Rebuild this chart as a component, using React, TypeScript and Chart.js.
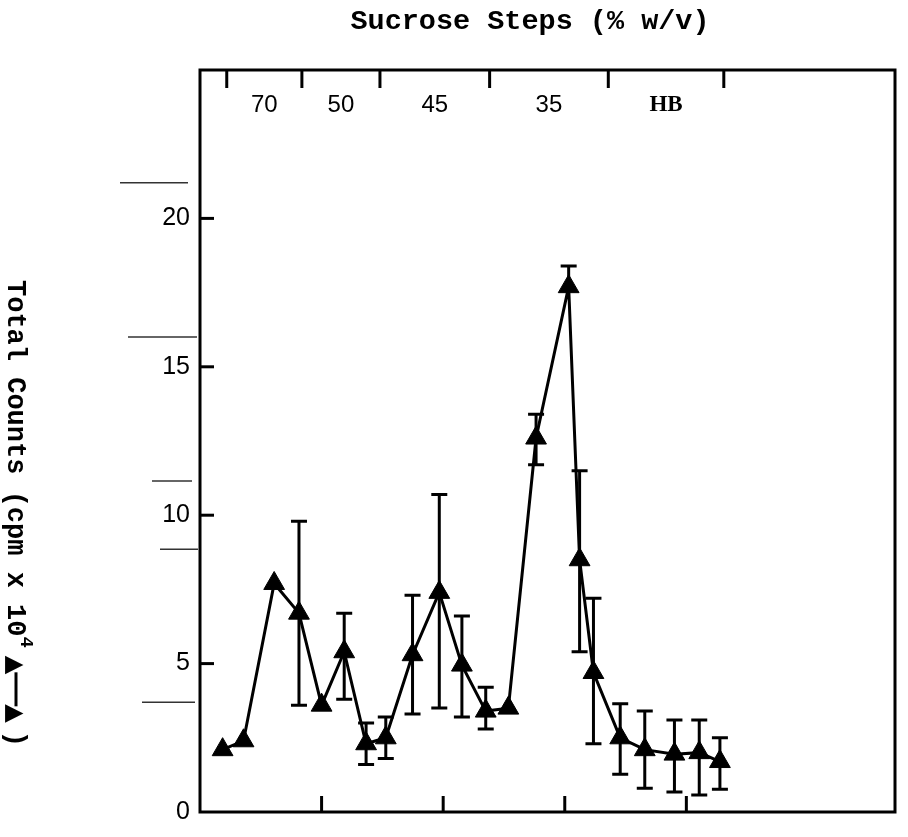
import React, { useEffect, useRef } from 'react';
import { Chart, registerables } from 'chart.js';

Chart.register(...registerables);

// Fraction position along the gradient (x) and total counts (cpm x 10^4)
const fractions = [0.93, 1.79, 3.05, 4.07, 5.0, 5.93, 6.83, 7.64, 8.74, 9.84, 10.77, 11.75, 12.68, 13.82, 15.16, 15.61, 16.18, 17.28, 18.29, 19.51, 20.53, 21.38];
const counts = [2.1, 2.4, 7.7, 6.7, 3.6, 5.4, 2.3, 2.5, 5.3, 7.4, 4.95, 3.4, 3.5, 12.6, 17.7, 8.5, 4.7, 2.5, 2.1, 1.95, 2.0, 1.7];
const errUpper: (number | null)[] = [null, null, null, 9.8, null, 6.7, 3.0, 3.2, 7.3, 10.7, 6.6, 4.2, null, 13.4, 18.4, 11.5, 7.2, 3.65, 3.4, 3.1, 3.1, 2.5];
const errLower: (number | null)[] = [null, null, null, 3.6, null, 3.8, 1.6, 1.8, 3.3, 3.5, 3.2, 2.8, null, 11.7, null, 5.4, 2.3, 1.27, 0.8, 0.67, 0.57, 0.77];

// Sucrose step boundaries (top axis) and their labels
const stepBounds = [1.1, 4.19, 7.4, 11.91, 16.79, 21.54];
const stepLabels = ['70', '50', '45', '35', 'HB'];

const yTickValues = [0, 5, 10, 15, 20];
const xTickValues = [5, 10, 15, 20];
const marginRuleValues = [21.2, 16.0, 11.15, 8.85, 3.7];

const titleText = 'Sucrose Steps (% w/v)';
const yTitleMain = 'Total Counts (cpm x 10';
const yTitleSup = '4';

const X_MAX = 28.58;
const Y_MAX = 25;

const overlayPlugin = {
  id: 'overlay',
  afterDatasetsDraw(chart: any) {
    const { ctx, scales } = chart;
    const x = scales.x;
    const y = scales.y;
    ctx.save();
    ctx.strokeStyle = '#000';
    ctx.lineWidth = 3;
    ctx.lineCap = 'butt';
    const cap = 8;
    for (let i = 0; i < fractions.length; i++) {
      const px = x.getPixelForValue(fractions[i]);
      const py = y.getPixelForValue(counts[i]);
      const hi = errUpper[i];
      const lo = errLower[i];
      if (hi != null) {
        const ph = y.getPixelForValue(hi);
        ctx.beginPath();
        ctx.moveTo(px, py);
        ctx.lineTo(px, ph);
        ctx.moveTo(px - cap, ph);
        ctx.lineTo(px + cap, ph);
        ctx.stroke();
      }
      if (lo != null) {
        const pl = y.getPixelForValue(lo);
        ctx.beginPath();
        ctx.moveTo(px, py);
        ctx.lineTo(px, pl);
        ctx.moveTo(px - cap, pl);
        ctx.lineTo(px + cap, pl);
        ctx.stroke();
      }
    }
    ctx.restore();
  },
  afterDraw(chart: any) {
    const { ctx, chartArea: a, scales } = chart;
    const x = scales.x;
    const y = scales.y;
    ctx.save();
    ctx.strokeStyle = '#000';
    ctx.fillStyle = '#000';
    ctx.lineWidth = 3;
    ctx.strokeRect(a.left, a.top, a.right - a.left, a.bottom - a.top);
    const seg = (x1: number, y1: number, x2: number, y2: number) => {
      ctx.beginPath();
      ctx.moveTo(x1, y1);
      ctx.lineTo(x2, y2);
      ctx.stroke();
    };
    xTickValues.forEach((v) => {
      const px = x.getPixelForValue(v);
      seg(px, a.bottom, px, a.bottom - 16);
    });
    yTickValues.slice(1).forEach((v) => {
      const py = y.getPixelForValue(v);
      seg(a.left, py, a.left + 14, py);
    });
    stepBounds.forEach((v) => {
      const px = x.getPixelForValue(v);
      seg(px, a.top, px, a.top + 18);
    });
    // faint ruling marks left of the axis
    ctx.lineWidth = 1.5;
    ctx.strokeStyle = '#333';
    marginRuleValues.forEach((v, i) => {
      const py = y.getPixelForValue(v);
      const start = [80, 72, 48, 40, 58][i];
      const end = [12, 3, 8, 2, 5][i];
      seg(a.left - start, py, a.left - end, py);
    });
    // step labels
    ctx.textAlign = 'center';
    ctx.textBaseline = 'middle';
    for (let i = 0; i < stepLabels.length; i++) {
      const mid = (x.getPixelForValue(stepBounds[i]) + x.getPixelForValue(stepBounds[i + 1])) / 2;
      ctx.font = stepLabels[i] === 'HB' ? 'bold 23px "Liberation Serif"' : '24px "Liberation Sans"';
      ctx.fillText(stepLabels[i], mid, a.top + 35);
    }
    // title
    ctx.font = 'bold 28.5px "Liberation Mono"';
    ctx.textAlign = 'center';
    ctx.textBaseline = 'middle';
    ctx.fillText(titleText, 530, 22);
    // rotated y title (reads top to bottom)
    ctx.translate(8, 280);
    ctx.rotate(Math.PI / 2);
    ctx.textAlign = 'left';
    ctx.textBaseline = 'alphabetic';
    ctx.font = 'bold 27px "Liberation Mono"';
    ctx.fillText(yTitleMain, 0, 0);
    let cx = ctx.measureText(yTitleMain).width;
    ctx.font = 'bold 19px "Liberation Mono"';
    ctx.fillText(yTitleSup, cx, -13);
    cx += ctx.measureText(yTitleSup).width + 8;
    ctx.font = 'bold 24px "DejaVu Sans"';
    const tri = '\u25B2';
    ctx.fillText(tri, cx, 0);
    const tw = ctx.measureText(tri).width;
    ctx.lineWidth = 3;
    ctx.strokeStyle = '#000';
    seg(cx + tw - 2, -8, cx + tw + 32, -8);
    ctx.fillText(tri, cx + tw + 30, 0);
    ctx.font = 'bold 27px "Liberation Mono"';
    ctx.fillText(')', cx + 2 * tw + 38, 0);
    ctx.restore();
  },
};

export default function App() {
  const ref = useRef<HTMLCanvasElement | null>(null);
  useEffect(() => {
    if (!ref.current) return;
    const chart = new Chart(ref.current, {
      type: 'line',
      data: {
        datasets: [
          {
            data: fractions.map((f, i) => ({ x: f, y: counts[i] })),
            borderColor: '#000',
            backgroundColor: '#000',
            borderWidth: 3,
            pointStyle: 'triangle',
            pointRadius: 12,
            pointBackgroundColor: '#000',
            pointBorderColor: '#000',
            pointBorderWidth: 1,
            tension: 0,
          },
        ],
      },
      options: {
        responsive: false,
        animation: false,
        devicePixelRatio: 1,
        layout: { padding: { left: 0, top: 70, right: 5, bottom: 0 } },
        plugins: { legend: { display: false }, tooltip: { enabled: false }, title: { display: false } },
        scales: {
          x: {
            type: 'linear',
            min: 0,
            max: X_MAX,
            grid: { display: false, drawTicks: false },
            border: { display: false },
            ticks: { display: false },
            afterFit: (s: any) => {
              s.height = 19;
            },
          },
          y: {
            type: 'linear',
            min: 0,
            max: Y_MAX,
            grid: { display: false, drawTicks: false },
            border: { display: false },
            afterBuildTicks: (s: any) => {
              s.ticks = yTickValues.map((v) => ({ value: v }));
            },
            ticks: {
              color: '#000',
              padding: 10,
              font: { family: '"Liberation Sans"', size: 25 },
              callback: (v: any) => String(v),
            },
            afterFit: (s: any) => {
              s.width = 200;
            },
          },
        },
      },
      plugins: [overlayPlugin],
    });
    return () => chart.destroy();
  }, []);
  return (
    <div style={{ position: 'fixed', left: 0, top: 0, width: 908, height: 837, background: '#fff' }}>
      <canvas ref={ref} width={908} height={837} style={{ display: 'block' }} />
    </div>
  );
}
